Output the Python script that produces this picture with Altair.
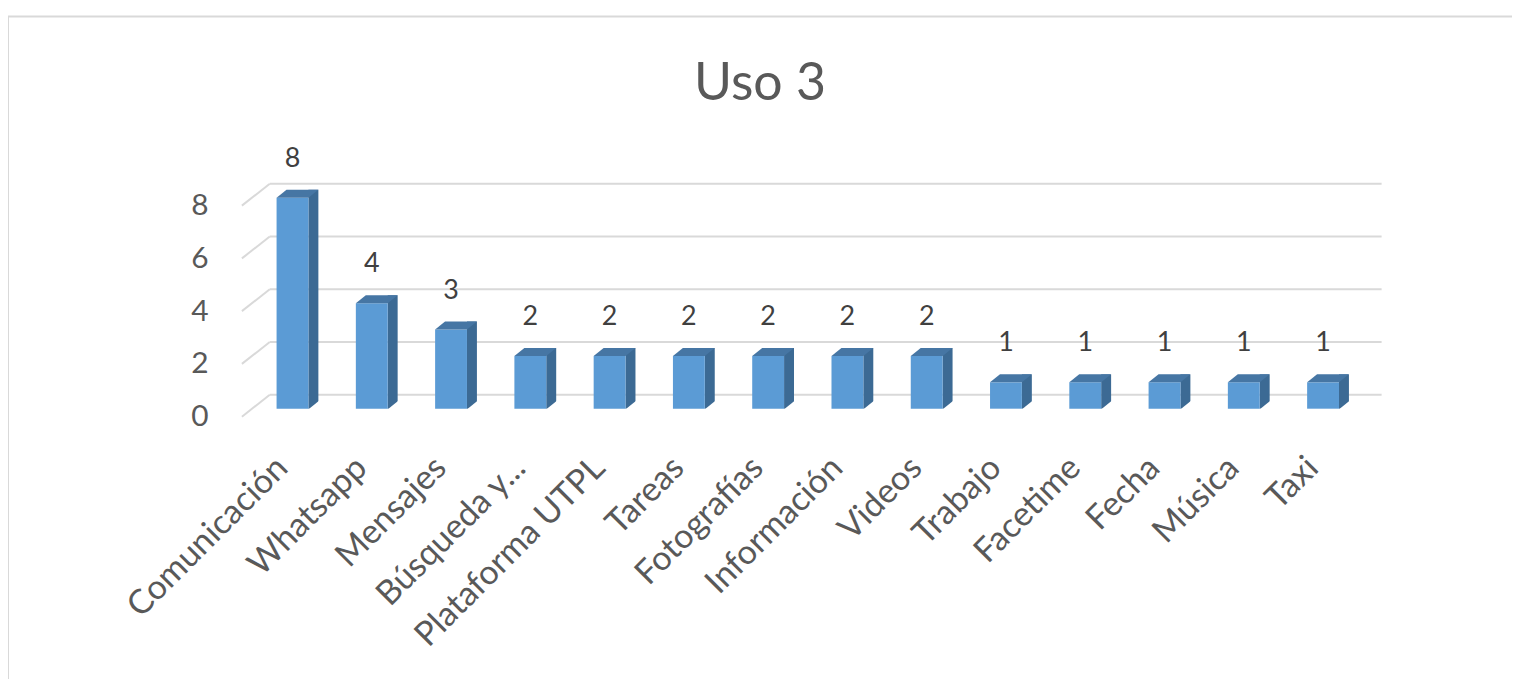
import altair as alt
import pandas as pd

categories = ["Comunicación", "Whatsapp", "Mensajes", "Búsqueda y...", "Plataforma UTPL",
              "Tareas", "Fotografías", "Información", "Videos", "Trabajo", "Facetime",
              "Fecha", "Música", "Taxi"]
values = [8, 4, 3, 2, 2, 2, 2, 2, 2, 1, 1, 1, 1, 1]
y_ticks = [0, 2, 4, 6, 8]

W, H = 1115, 212
FONT = "Lato"
FRONT = "#5B9BD5"
SIDE = "#3C6A94"
TOP = "#4676A4"
GRID = "#D9D9D9"

df = pd.DataFrame({"cat": categories, "val": values})
ticks_df = pd.DataFrame({"t": y_ticks})

xs = alt.Scale(domain=categories, paddingInner=0, paddingOuter=0)
ys = alt.Scale(domain=[0, 8], nice=False)

x_axis = alt.Axis(title=None, labelAngle=-45, labelAlign="right", labelBaseline="middle",
                  labelFontSize=34, labelFont=FONT, labelColor="#595959",
                  ticks=False, domain=False, labelPadding=54, labelOffset=-10, labelLimit=400)
y_axis = alt.Axis(title=None, values=y_ticks, grid=False, ticks=False, domain=False,
                  labelFontSize=30, labelFont=FONT, labelColor="#595959",
                  labelPadding=45, labelOffset=8, labelBaseline="middle")

X = alt.X("cat:N", sort=categories, scale=xs, axis=x_axis)
Y = alt.Y("val:Q", scale=ys, axis=y_axis)

one = pd.DataFrame({"a": [0]})
border_top = alt.Chart(one).mark_rule(color=GRID, strokeWidth=2).encode(
    x=alt.value(-246), x2=alt.value(1400), y=alt.value(-182))
border_left = alt.Chart(one).mark_rule(color=GRID, strokeWidth=2).encode(
    x=alt.value(-246), y=alt.value(-182), y2=alt.value(600))

grid = alt.Chart(ticks_df).mark_rule(color=GRID, strokeWidth=2, yOffset=-14).encode(
    y=alt.Y("t:Q", scale=ys, axis=y_axis), x=alt.value(17), x2=alt.value(W + 19)
)
diag = alt.Chart(ticks_df).mark_rule(color=GRID, strokeWidth=2, yOffset=8, y2Offset=-14).encode(
    y=alt.Y("t:Q", scale=ys, axis=y_axis), y2=alt.Y2("t:Q"), x=alt.value(-11), x2=alt.value(17)
)

base = alt.Chart(df)

side = base.mark_bar(color=SIDE, width=10, xOffset=21, yOffset=-8).encode(
    x=X, y=Y, y2=alt.datum(0)
)

front = base.mark_bar(color=FRONT, width=32).encode(x=X, y=Y)

top = base.mark_point(
    shape="M -1 0.19 L 0.524 0.19 L 1 -0.19 L -0.524 -0.19 Z",
    size=1764, filled=True, fill=TOP, strokeWidth=0, opacity=1, xOffset=5, yOffset=-4
).encode(x=X, y=Y)

bottom = base.mark_point(
    shape="M -1.1 1 L 1.2 1 L 1.2 -0.85 Z",
    size=100, filled=True, fill="white", strokeWidth=0, opacity=1, xOffset=21, yOffset=-4
).encode(x=X, y=alt.Y("zero:Q", scale=ys, axis=y_axis)).transform_calculate(zero="0")

labels = base.mark_text(font=FONT, fontSize=27, color="#404040", baseline="middle", dy=-39).encode(
    x=X, y=Y, text=alt.Text("val:Q")
)

chart = alt.layer(border_top, border_left, grid, diag, side, front, top, bottom, labels).properties(
    width=W, height=H,
    title=alt.TitleParams("Uso 3", font=FONT, fontSize=52, fontWeight="normal", color="#595959",
                          anchor="middle", frame="group", dx=-48, offset=-137, baseline="alphabetic"),
    autosize=alt.AutoSizeParams(type="none"),
    padding={"left": 246, "top": 189, "right": 150, "bottom": 270},
).configure_view(stroke=None)

chart.save("out.html", embed_options={"renderer": "svg", "actions": False})
